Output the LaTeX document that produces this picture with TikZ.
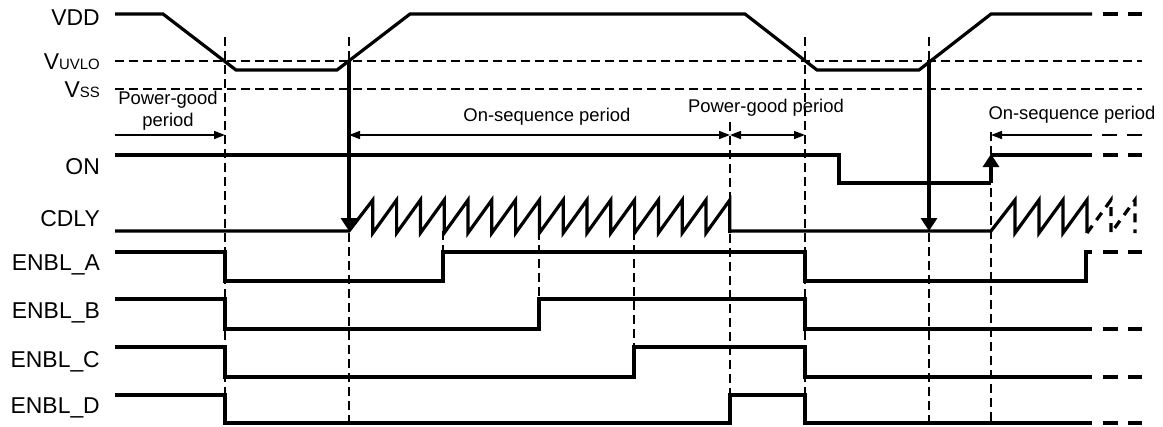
\documentclass[tikz,border=0pt]{standalone}
\usepackage{fontspec}
\setmainfont{Liberation Sans}
\usetikzlibrary{arrows.meta}

\tikzset{
  sig/.style={line width=3.2bp},
  guide/.style={line width=1.4bp, dash pattern=on 9bp off 5bp},
  tail/.style={line width=3.2bp, dash pattern=on 15bp off 10bp},
  span/.style={line width=1.6bp},
  lbl/.style={anchor=east, inner sep=0pt, font=\fontsize{23}{26}\selectfont},
  per/.style={inner sep=0pt, align=center, font=\fontsize{18.5}{22}\selectfont},
  bigtip/.tip={Triangle[length=13bp,width=16bp]},
  smalltip/.tip={Triangle[length=11bp,width=8bp]}
}

\begin{document}
\begin{tikzpicture}[x=1bp,y=-1bp]
            \def\tpg{225}
            \def\ton{349}
            \def\tend{730}
            \def\toff{805}
            \def\tuv{929}
            \def\tre{991}
            \def\stop{1092}
            \def\uvlo{61}
            \def\vss{89}

            \useasboundingbox (0,0) rectangle (1163,426);

            \node[lbl] (vdd)   at (100, 18) {VDD};
            \node[lbl] (vuvlo) at (100, 62) {V{\fontsize{15}{17}\selectfont UVLO}};
            \node[lbl] (vss)   at (100, 90) {V{\fontsize{15}{17}\selectfont SS}};
            \node[lbl] (on)    at (100,167) {ON};
            \node[lbl] (cdly)  at (100,219) {CDLY};
            \node[lbl] (enbla) at (100,265) {ENBL\_A};
            \node[lbl] (enblb) at (100,313) {ENBL\_B};
            \node[lbl] (enblc) at (100,362) {ENBL\_C};
            \node[lbl] (enbld) at (100,408) {ENBL\_D};

            \draw[guide] (115,\uvlo) -- (1142,\uvlo);
            \draw[guide] (115,\vss) -- (1142,\vss);
            \foreach \x in {\tpg, \ton, \toff, \tuv} {
              \draw[guide] (\x,37) -- (\x,426);
            }
            \draw[guide] (\tend,122) -- (\tend,426);
            \draw[guide] (\tre,132) -- (\tre,426);
            \draw[guide] (443,231) -- (443,252);
            \draw[guide] (539,231) -- (539,299);
            \draw[guide] (634,231) -- (634,347);

            \draw[sig] (115,14) -- (163,14) -- (236,70) -- (337,70) -- (410,14) -- (745,14)
                       -- (817,70) -- (919,70) -- (\tre,14) -- (\stop,14);
            \draw[sig] (115,155) -- (839,155) -- (839,183) -- (\tre,183);
            \draw[sig,-bigtip] (\tre,183) -- (\tre,154);
            \draw[sig] (\tre,155) -- (\stop,155);
            \draw[sig] (115,231) -- (\ton,231)
              \foreach \i in {1,...,16} { -- ({\ton+\i*23.8},200) -- ({\ton+\i*23.8},233) }
              -- (\tend,231) -- (\tre,231)
              \foreach \i in {1,...,4} { -- ({\tre+\i*24},200) -- ({\tre+\i*24},233) };
            \draw[line width=3.2bp, dash pattern=on 9bp off 7bp] (1087,233) -- (1111,200) -- (1111,233) -- (1135,200) -- (1135,233);
            \draw[sig,-bigtip] (\ton,\uvlo) -- (\ton,231);
            \draw[sig,-bigtip] (\tuv,\uvlo) -- (\tuv,231);

            \draw[sig] (115,252) -- (\tpg,252) -- (\tpg,281) -- (443,281) -- (443,252) -- (\toff,252)
                       -- (\toff,281) -- (1086,281) -- (1086,252) -- (\stop,252);
            \draw[sig] (115,299) -- (\tpg,299) -- (\tpg,329) -- (539,329) -- (539,299) -- (\toff,299)
                       -- (\toff,329) -- (\stop,329);
            \draw[sig] (115,347) -- (\tpg,347) -- (\tpg,377) -- (634,377) -- (634,347) -- (\toff,347)
                       -- (\toff,377) -- (\stop,377);
            \draw[sig] (115,395) -- (\tpg,395) -- (\tpg,423) -- (\tend,423) -- (\tend,395) -- (\toff,395)
                       -- (\toff,423) -- (\stop,423);
            \foreach \y in {14,155,252,329,377,423} {
              \draw[tail] (1103,\y) -- (1142,\y);
            }

            \draw[span,-smalltip] (115,135) -- (\tpg,135);
            \draw[span,smalltip-smalltip] (\ton,135) -- (\tend,135);
            \draw[span,smalltip-smalltip] (\tend,135) -- (\toff,135);
            \draw[span,smalltip-] (\tre,135) -- (\stop,135);
            \draw[span,dash pattern=on 15bp off 10bp] (1102,135) -- (1142,135);

            \node[per] (pgood)  at (168,111) {Power-good\\period};
            \node[per] (onseq)  at (547,117) {On-sequence period};
            \node[per] (pgood2) at (766,108) {Power-good period};
            \node[per] (onseq2) at (1072,115) {On-sequence period};
          \end{tikzpicture}
\end{document}
